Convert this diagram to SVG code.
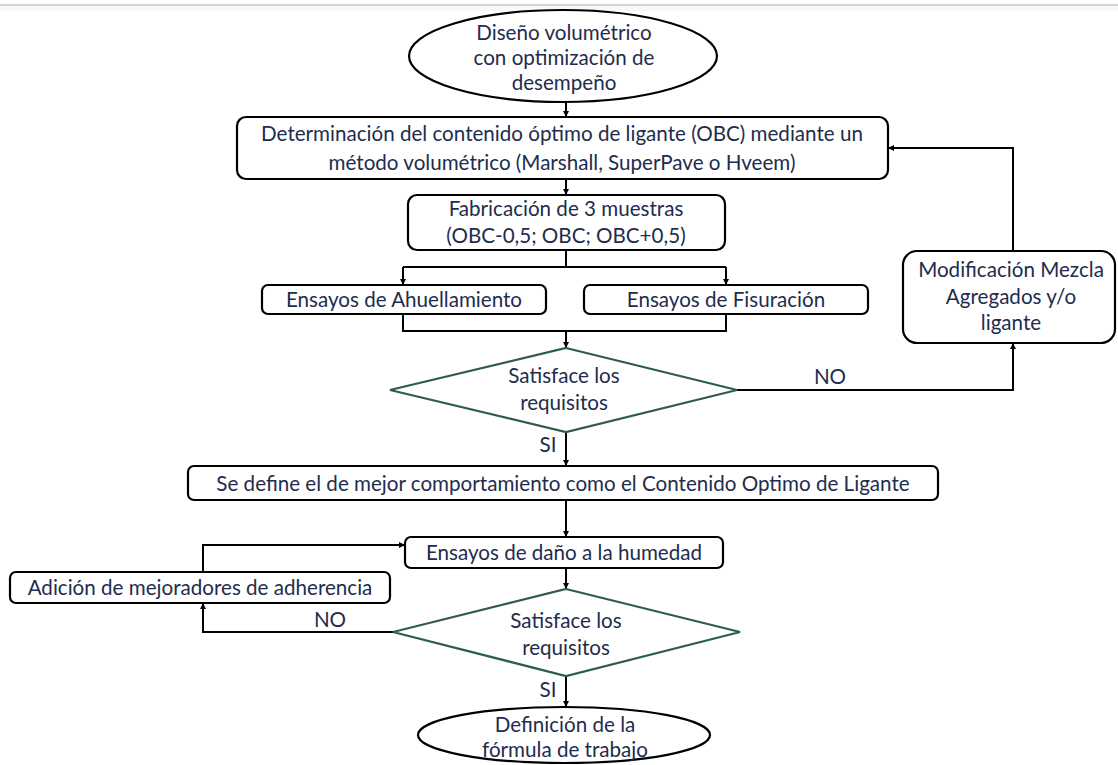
<svg xmlns="http://www.w3.org/2000/svg" width="1118" height="765" viewBox="0 0 1118 765">
  <style>
    .box { fill: #ffffff; stroke: #000000; stroke-width: 2.2; }
    .dec { fill: #ffffff; stroke: #2f5d4c; stroke-width: 2.2; }
    .t { font-family: Lato, "Liberation Sans", sans-serif; font-size: 20.6px; fill: #222c4e; text-anchor: middle; }
    .wire { fill: none; stroke: #000000; stroke-width: 2; }
    .arr { fill: none; stroke: #000000; stroke-width: 2; marker-end: url(#head); }
  </style>
  <defs>
    <marker id="head" viewBox="0 0 10 10" refX="10" refY="5" markerWidth="7" markerHeight="6" markerUnits="userSpaceOnUse" orient="auto">
      <path d="M0,0 L10,5 L0,10 z" fill="#000000"/>
    </marker>
  </defs>

  <rect x="0" y="0" width="1118" height="765" fill="#ffffff"/>
  <line x1="0" y1="5" x2="1118" y2="5" stroke="#c6c6c6" stroke-width="1.5"/>
  <rect x="0" y="6" width="1118" height="5" fill="#f8f8f8"/>

  <!-- connectors and branch labels -->
  <g id="connectors">
    <path class="arr" d="M566,102 V117"/>
    <path class="arr" d="M566,179 V195"/>
    <path class="wire" d="M566,250 V267 M403,267 H726"/>
    <path class="arr" d="M403,267 V285"/>
    <path class="arr" d="M726,267 V285"/>
    <path class="wire" d="M403,314 V331 H726 V314"/>
    <path class="arr" d="M566,331 V348"/>
    <path class="arr" d="M737,390 H1013 V343"/>
    <path class="arr" d="M1013,251 V148 H888"/>
    <path class="arr" d="M566,432 V466"/>
    <path class="arr" d="M566,500 V537"/>
    <path class="arr" d="M566,568 V589"/>
    <path class="arr" d="M393,632 H203 V603"/>
    <path class="arr" d="M203,572 V545 H405"/>
    <path class="arr" d="M566,676 V707"/>
    <text class="t" x="830" y="384">NO</text>
    <text class="t" x="548" y="452">SI</text>
    <text class="t" x="330" y="627">NO</text>
    <text class="t" x="548" y="697">SI</text>
  </g>

  <g id="inicio">
    <ellipse cx="563" cy="56" rx="154" ry="46" fill="#ffffff" stroke="#000000" stroke-width="2.2"/>
    <text class="t" x="564" y="40">Diseño volumétrico</text>
    <text class="t" x="564" y="65">con optimización de</text>
    <text class="t" x="564" y="90">desempeño</text>
  </g>

  <g id="obc">
    <rect class="box" x="237" y="117" width="651" height="62" rx="9"/>
    <text class="t" x="562" y="141">Determinación del contenido óptimo de ligante (OBC) mediante un</text>
    <text class="t" x="562" y="170">método volumétrico (Marshall, SuperPave o Hveem)</text>
  </g>

  <g id="muestras">
    <rect class="box" x="408" y="195" width="317" height="55" rx="9"/>
    <text class="t" x="566" y="216">Fabricación de 3 muestras</text>
    <text class="t" x="566" y="243">(OBC-0,5; OBC; OBC+0,5)</text>
  </g>

  <g id="ahuellamiento">
    <rect class="box" x="262" y="285" width="284" height="29" rx="6"/>
    <text class="t" x="404" y="307">Ensayos de Ahuellamiento</text>
  </g>

  <g id="fisuracion">
    <rect class="box" x="584" y="285" width="284" height="29" rx="6"/>
    <text class="t" x="726" y="307">Ensayos de Fisuración</text>
  </g>

  <g id="requisitos1">
    <polygon class="dec" points="566,348 737,390 566,432 390,390"/>
    <text class="t" x="564" y="383">Satisface los</text>
    <text class="t" x="564" y="410">requisitos</text>
  </g>

  <g id="modificacion">
    <rect class="box" x="903" y="251" width="212" height="92" rx="14"/>
    <text class="t" x="1011" y="277">Modificación Mezcla</text>
    <text class="t" x="1011" y="304">Agregados y/o</text>
    <text class="t" x="1011" y="330">ligante</text>
  </g>

  <g id="contenido-optimo">
    <rect class="box" x="188" y="466" width="750" height="34" rx="6"/>
    <text class="t" x="563" y="491">Se define el de mejor comportamiento como el Contenido Optimo de Ligante</text>
  </g>

  <g id="humedad">
    <rect class="box" x="405" y="537" width="318" height="31" rx="6"/>
    <text class="t" x="564" y="560">Ensayos de daño a la humedad</text>
  </g>

  <g id="adherencia">
    <rect class="box" x="10" y="572" width="380" height="31" rx="6"/>
    <text class="t" x="200" y="595">Adición de mejoradores de adherencia</text>
  </g>

  <g id="requisitos2">
    <polygon class="dec" points="566,589 740,632 566,676 393,632"/>
    <text class="t" x="566" y="628">Satisface los</text>
    <text class="t" x="566" y="655">requisitos</text>
  </g>

  <g id="formula">
    <ellipse cx="564" cy="735" rx="146" ry="28" fill="#ffffff" stroke="#000000" stroke-width="2.2"/>
    <text class="t" x="565" y="732">Definición de la</text>
    <text class="t" x="565" y="757">fórmula de trabajo</text>
  </g>
</svg>
